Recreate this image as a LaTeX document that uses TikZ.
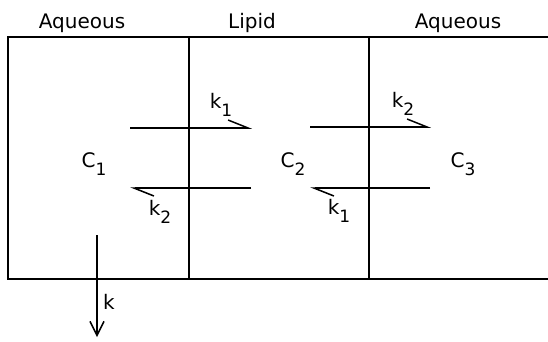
\documentclass[tikz,border=0pt]{standalone}
\usepackage{fontspec}
\setmainfont{DejaVu Sans}
\usetikzlibrary{arrows.meta,positioning}
\newcommand{\idx}[2]{#1\raisebox{-0.7ex}{\fontsize{17}{17}\selectfont #2}}

\begin{document}
\begin{tikzpicture}[x=1pt, y=-1pt, line width=1.5pt,
    flux/.style={-{Straight Barb[left, length=20pt, width=16pt]}},
    lbl/.style={font=\fontsize{20}{20}\selectfont, inner sep=0pt}]
    \useasboundingbox (0,0) rectangle (548,341);

    % Headings
    \node[lbl, anchor=base] (aqL) at (82,28) {Aqueous};
    \node[lbl, anchor=base] (lipid) at (252,28) {Lipid};
    \node[lbl, anchor=base] (aqR) at (458,28) {Aqueous};

    % Compartments
    \coordinate (tl) at (8,37);
    \coordinate (tr) at (548,37);
    \coordinate (bl) at (8,279);
    \coordinate (br) at (548,279);
    \draw (tr) -- (tl) -- (bl) -- (br);
    \coordinate (m1t) at (189,37);
    \coordinate (m1b) at (189,279);
    \coordinate (m2t) at (369,37);
    \coordinate (m2b) at (369,279);
    \draw (m1t) -- (m1b);
    \draw (m2t) -- (m2b);

    \node[lbl] (c1) at (94,164) {\idx{C}{1}};
    \node[lbl] (c2) at (293,164) {\idx{C}{2}};
    \node[lbl] (c3) at (463,164) {\idx{C}{3}};

    % Rate arrows
    \coordinate (a1s) at (130,128);
    \coordinate (a1e) at (252,128);
    \coordinate (a2s) at (251,188);
    \coordinate (a2e) at (130,188);
    \coordinate (a3s) at (310,127);
    \coordinate (a3e) at (431,127);
    \coordinate (a4s) at (430,188);
    \coordinate (a4e) at (310,188);
    \draw[flux] (a1s) -- (a1e);
    \draw[flux] (a2s) -- (a2e);
    \draw[flux] (a3s) -- (a3e);
    \draw[flux] (a4s) -- (a4e);

    \node[lbl] (k1a) at (221,105) {\idx{k}{1}};
    \node[lbl] (k2a) at (403,104) {\idx{k}{2}};
    \node[lbl] (k2b) at (160,212) {\idx{k}{2}};
    \node[lbl] (k1b) at (339,211) {\idx{k}{1}};

    % Elimination
    \coordinate (out1) at (97,235);
    \coordinate (out2) at (97,337);
    \draw[-{Straight Barb[length=14pt, width=14pt]}] (out1) -- (out2);
    \node[lbl] (kel) at (109,302) {k};
\end{tikzpicture}
\end{document}
